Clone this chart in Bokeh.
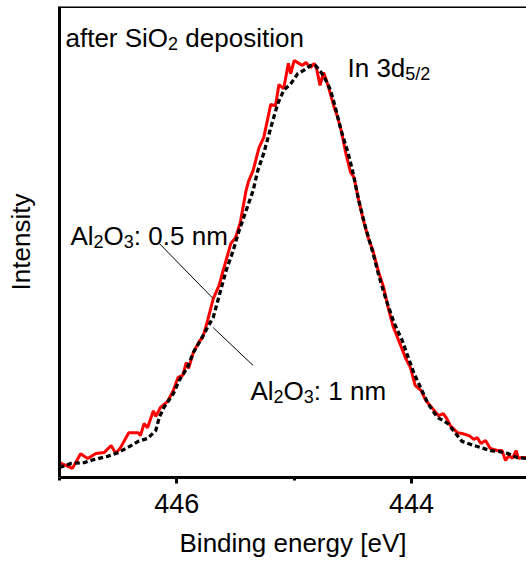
from bokeh.plotting import figure
from bokeh.models import Range1d, FixedTicker, Label, Span
from bokeh.embed import file_html
from bokeh.resources import INLINE

# ---- data (binding energy in eV, normalised intensity) ----
energy_05nm = [447.00, 446.89, 446.82, 446.76, 446.69, 446.62, 446.56, 446.52, 446.48, 446.41,
               446.33, 446.31, 446.28, 446.25, 446.20, 446.18, 446.14, 446.08, 446.03, 445.99,
               445.95, 445.92, 445.90, 445.86, 445.81, 445.78, 445.74, 445.69, 445.64, 445.61,
               445.54, 445.50, 445.46, 445.41, 445.39, 445.35, 445.30, 445.26, 445.20, 445.16,
               445.13, 445.09, 445.05, 445.03, 445.00, 444.96, 444.93, 444.90, 444.86, 444.83,
               444.81, 444.78, 444.75, 444.72, 444.70, 444.66, 444.63, 444.60, 444.56, 444.52,
               444.49, 444.45, 444.41, 444.37, 444.33, 444.28, 444.24, 444.20, 444.16, 444.11,
               444.05, 444.01, 443.97, 443.92, 443.88, 443.82, 443.77, 443.73, 443.70, 443.67,
               443.61, 443.57, 443.51, 443.47, 443.44, 443.41, 443.37, 443.33, 443.27, 443.23,
               443.20, 443.17, 443.14, 443.11, 443.09, 443.06, 443.02]
intensity_05nm = [0.036, 0.022, 0.057, 0.046, 0.058, 0.060, 0.077, 0.058, 0.072, 0.108,
                  0.108, 0.101, 0.130, 0.120, 0.161, 0.147, 0.169, 0.183, 0.210, 0.241,
                  0.246, 0.277, 0.263, 0.301, 0.328, 0.337, 0.376, 0.431, 0.463, 0.494,
                  0.564, 0.578, 0.614, 0.692, 0.713, 0.740, 0.795, 0.819, 0.899, 0.896,
                  0.947, 0.937, 0.998, 0.973, 1.005, 0.998, 0.993, 1.000, 0.988, 0.998,
                  0.986, 0.945, 0.976, 0.952, 0.933, 0.892, 0.868, 0.836, 0.781, 0.735,
                  0.723, 0.667, 0.619, 0.578, 0.547, 0.494, 0.460, 0.410, 0.366, 0.330,
                  0.287, 0.265, 0.222, 0.210, 0.186, 0.166, 0.149, 0.154, 0.142, 0.125,
                  0.108, 0.106, 0.101, 0.092, 0.096, 0.082, 0.089, 0.070, 0.065, 0.065,
                  0.041, 0.053, 0.046, 0.065, 0.046, 0.048, 0.048]

energy_1nm = [447.00, 446.90, 446.79, 446.71, 446.59, 446.50, 446.42, 446.33, 446.25, 446.18,
              446.15, 446.11, 446.03, 445.98, 445.91, 445.86, 445.80, 445.74, 445.69, 445.65,
              445.58, 445.52, 445.47, 445.41, 445.35, 445.31, 445.26, 445.20, 445.14, 445.09,
              445.03, 444.97, 444.92, 444.86, 444.82, 444.77, 444.73, 444.69, 444.65, 444.60,
              444.54, 444.50, 444.45, 444.39, 444.33, 444.28, 444.22, 444.15, 444.08, 443.98,
              443.86, 443.78, 443.69, 443.63, 443.57, 443.50, 443.41, 443.33, 443.26, 443.18,
              443.10, 443.02]
intensity_1nm = [0.024, 0.034, 0.036, 0.043, 0.051, 0.060, 0.072, 0.087, 0.094, 0.113,
                 0.145, 0.169, 0.202, 0.234, 0.265, 0.301, 0.330, 0.361, 0.386, 0.427,
                 0.499, 0.547, 0.595, 0.643, 0.692, 0.740, 0.781, 0.843, 0.901, 0.933,
                 0.949, 0.973, 0.981, 0.993, 0.993, 0.976, 0.957, 0.933, 0.892, 0.836,
                 0.781, 0.735, 0.667, 0.600, 0.542, 0.487, 0.431, 0.373, 0.330, 0.251,
                 0.178, 0.145, 0.130, 0.108, 0.087, 0.080, 0.072, 0.065, 0.063, 0.058,
                 0.048, 0.046]

x_ticks = [446, 444]
x_minor_ticks = [447, 445, 443]
x_label = "Binding energy [eV]"
y_label = "Intensity"

# leader lines (label -> curve), in data units
leader_x0 = [446.15, 445.69]
leader_y0 = [0.564, 0.361]
leader_x1 = [445.69, 445.35]
leader_y1 = [0.431, 0.270]

FONT = "Liberation Sans"
MAIN = 26
SUB = 18
SUB_DROP = 6

p = figure(width=526, height=567, output_backend="svg", toolbar_location=None,
           x_range=Range1d(447.0, 443.021), y_range=Range1d(0.0, 1.135),
           min_border_left=59, min_border_right=0, min_border_top=6, min_border_bottom=90)
p.background_fill_color = "white"
p.border_fill_color = "white"
p.outline_line_color = None
p.xgrid.grid_line_color = None
p.ygrid.grid_line_color = None

# curves
p.line(energy_05nm, intensity_05nm, line_color="#ff0000", line_width=3)
p.line(energy_1nm, intensity_1nm, line_color="black", line_width=3.3, line_dash="5 3")
p.segment(x0=leader_x0, y0=leader_y0, x1=leader_x1, y1=leader_y1, line_color="black", line_width=1)

# top frame line
p.add_layout(Span(location=1.135, dimension="width", line_color="black", line_width=3))

# x axis
xa = p.xaxis[0]
xa.ticker = FixedTicker(ticks=x_ticks, minor_ticks=x_minor_ticks)
xa.axis_line_width = 3
xa.axis_line_color = "black"
xa.major_tick_line_width = 3
xa.minor_tick_line_width = 3
xa.major_tick_out = 6
xa.major_tick_in = 0
xa.minor_tick_out = 3
xa.minor_tick_in = 0
xa.major_label_text_font = FONT
xa.major_label_text_font_size = "27px"
xa.major_label_text_color = "black"
xa.major_label_standoff = 10
xa.axis_label = x_label
xa.axis_label_text_font = FONT
xa.axis_label_text_font_size = "26px"
xa.axis_label_text_font_style = "normal"
xa.axis_label_text_color = "black"
xa.axis_label_standoff = 12

# y axis
ya = p.yaxis[0]
ya.ticker = FixedTicker(ticks=[])
ya.axis_line_width = 3
ya.axis_line_color = "black"
ya.major_tick_line_color = None
ya.minor_tick_line_color = None
ya.axis_label = y_label
ya.axis_label_text_font = FONT
ya.axis_label_text_font_size = "26px"
ya.axis_label_text_font_style = "normal"
ya.axis_label_text_color = "black"
ya.axis_label_standoff = 24

FRAME_LEFT = 59
FRAME_BOTTOM = 477

# rich text helper (Arial / Liberation Sans advance widths per 1000 em)
W = {' ': 278, 'a': 556, 'd': 556, 'e': 556, 'f': 278, 'i': 222, 'l': 222, 'm': 833,
     'n': 556, 'o': 556, 'p': 556, 'r': 333, 's': 500, 't': 278, 'A': 667, 'I': 278,
     'O': 778, 'S': 667, '0': 556, '1': 556, '2': 556, '3': 556, '5': 556, '/': 278,
     ':': 278, '.': 278}


def width(txt, size):
    return sum(W.get(c, 556) for c in txt) * size / 1000.0


def rich(px, py, parts):
    x = px - FRAME_LEFT
    for txt, sub in parts:
        size = SUB if sub else MAIN
        stripped = txt.lstrip(" ")
        x += width(txt[:len(txt) - len(stripped)], size)
        y = FRAME_BOTTOM - py - (SUB_DROP if sub else 0)
        if stripped:
            p.add_layout(Label(x=x, y=y, x_units="screen", y_units="screen", text=stripped,
                               text_font=FONT, text_font_size=f"{size}px", text_color="black",
                               text_align="left", text_baseline="alphabetic"))
        x += width(stripped, size)


rich(65, 37, [("after SiO", False), ("2", True), (" deposition", False)])
rich(347, 67, [("In 3d", False), ("5/2", True)])
rich(70, 235, [("Al", False), ("2", True), ("O", False), ("3", True), (": 0.5 nm", False)])
rich(250, 390, [("Al", False), ("2", True), ("O", False), ("3", True), (": 1 nm", False)])

open("out.html", "w").write(file_html(p, INLINE))
